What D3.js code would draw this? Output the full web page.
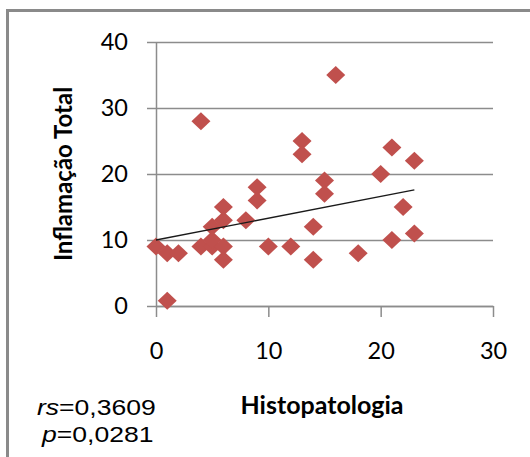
<!DOCTYPE html>
<html>
<head>
<meta charset="utf-8">
<script src="https://cdn.jsdelivr.net/npm/d3@7"></script>
<style>
  body { margin: 0; background: #fff; }
  text { font-family: Lato, "Liberation Sans", sans-serif; fill: #000; }
</style>
</head>
<body>
<div id="chart"></div>
<script>
// Histopatologia (x) vs Inflamação Total (y), one entry per case
const histopatologia = [0, 1, 2, 1, 4, 4, 5, 5, 5, 6, 6, 6, 6, 8, 9, 9, 10, 12, 13, 13, 14, 14, 15, 15, 16, 18, 20, 21, 21, 22, 23, 23];
const inflamacao     = [9, 8, 8, 0.8, 28, 9, 9, 10, 12, 9, 13, 15, 7, 13, 18, 16, 9, 9, 25, 23, 12, 7, 19, 17, 35, 8, 20, 24, 10, 15, 22, 11];

// linear trend line as drawn by the spreadsheet
const trendX = [0, 23];
const trendY = [10, 17.6];

const xTicks = [0, 10, 20, 30];
const yTicks = [0, 10, 20, 30, 40];

const statNames = ["rs", "p"];
const statValues = ["=0,3609", "=0,0281"];

const width = 530, height = 457;
const plot = { left: 156, right: 493, top: 42, bottom: 306 };
const gridColor = "#8c8c8c";
const markerColor = "#c0504d";

const svg = d3.select("#chart")
    .append("svg")
    .attr("width", width)
    .attr("height", height);

svg.append("rect")
    .attr("width", width)
    .attr("height", height)
    .attr("fill", "#fff");

// outer frame, runs off the right and bottom edges
svg.append("rect")
    .attr("x", 7.5)
    .attr("y", 10.5)
    .attr("width", 600)
    .attr("height", 600)
    .attr("fill", "none")
    .attr("stroke", "#8a8a8a")
    .attr("stroke-width", 3);

const x = d3.scaleLinear().domain([0, 30]).range([plot.left, plot.right]);
const y = d3.scaleLinear().domain([0, 40]).range([plot.bottom, plot.top]);

// horizontal gridlines
svg.append("g")
    .attr("transform", `translate(${plot.right},0)`)
    .call(d3.axisLeft(y).tickValues(yTicks).tickSize(plot.right - plot.left).tickFormat(""))
    .call(g => g.select(".domain").remove())
    .call(g => g.selectAll(".tick line").attr("stroke", gridColor).attr("stroke-width", 1.5));

// y axis
svg.append("g")
    .attr("transform", `translate(${plot.left},0)`)
    .call(d3.axisLeft(y).tickValues(yTicks).tickSizeInner(9).tickSizeOuter(0).tickPadding(19))
    .call(g => g.select(".domain").attr("stroke", gridColor).attr("stroke-width", 1.5))
    .call(g => g.selectAll(".tick line").attr("stroke", gridColor).attr("stroke-width", 1.5))
    .call(g => g.selectAll(".tick text")
        .style("font-family", "Lato")
        .style("font-size", "23.5px")
        .attr("fill", "#000"));

// x axis
svg.append("g")
    .attr("transform", `translate(0,${plot.bottom})`)
    .call(d3.axisBottom(x).tickValues(xTicks).tickSizeInner(11).tickSizeOuter(0).tickPadding(25))
    .call(g => g.select(".domain").attr("stroke", gridColor).attr("stroke-width", 1.5))
    .call(g => g.selectAll(".tick line").attr("stroke", gridColor).attr("stroke-width", 1.5))
    .call(g => g.selectAll(".tick text")
        .style("font-family", "Lato")
        .style("font-size", "23.5px")
        .attr("fill", "#000"));

// data points (diamonds)
const points = histopatologia.map((h, i) => ({ x: h, y: inflamacao[i] }));

svg.append("g")
    .selectAll("path")
    .data(points)
    .enter().append("path")
    .attr("transform", d => `translate(${x(d.x)},${y(d.y)})`)
    .attr("d", "M0,-9L9.5,0L0,9L-9.5,0Z")
    .attr("fill", markerColor);

// trend line
svg.append("path")
    .datum(trendX.map((t, i) => [t, trendY[i]]))
    .attr("fill", "none")
    .attr("stroke", "#1a1a1a")
    .attr("stroke-width", 1.3)
    .attr("d", d3.line().x(d => x(d[0])).y(d => y(d[1])));

// axis titles
svg.append("text")
    .attr("transform", "translate(72,174) rotate(-90)")
    .attr("text-anchor", "middle")
    .style("font-weight", "bold")
    .style("font-size", "24px")
    .text("Inflamação Total");

svg.append("text")
    .attr("x", 322)
    .attr("y", 414)
    .attr("text-anchor", "middle")
    .style("font-weight", "bold")
    .style("font-size", "25px")
    .text("Histopatologia");

// correlation statistics
const statsPos = [[37, 415], [42, 442]];
statNames.forEach((name, i) => {
    const t = svg.append("text")
        .attr("transform", `translate(${statsPos[i][0]},${statsPos[i][1]}) scale(1.18,1)`)
        .style("font-family", "'Liberation Sans', Arial, sans-serif")
        .style("font-size", "22.5px");
    t.append("tspan").style("font-style", "italic").text(name);
    t.append("tspan").text(statValues[i]);
});
</script>
</body>
</html>
